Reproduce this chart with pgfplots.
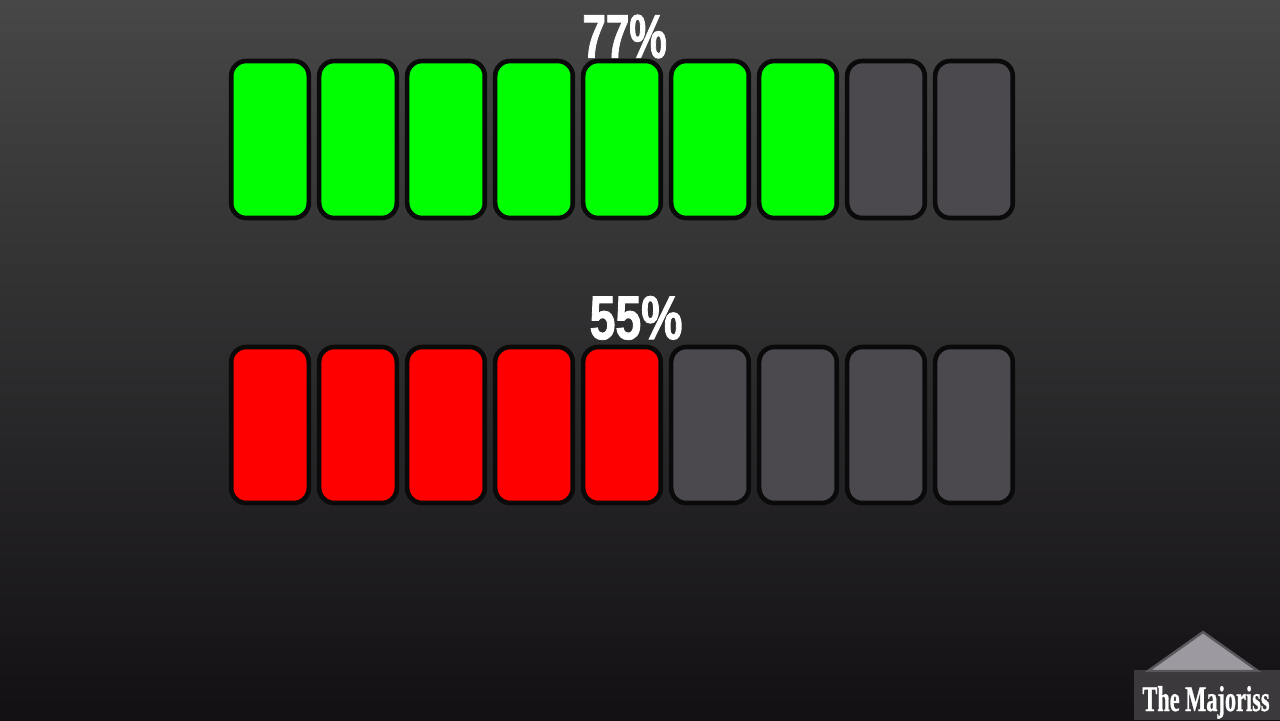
\documentclass[border=0pt]{standalone}
\usepackage{pgfplots}
\pgfplotsset{compat=1.18}
\usepackage{fontspec}
\setmainfont{Liberation Sans}
\newfontfamily\bigfont{Liberation Sans}[FakeStretch=0.68, FakeBold=1.2]
\newfontfamily\markfont{Liberation Serif}[FakeStretch=0.62, FakeBold=0.8]

\definecolor{bgtop}{HTML}{474747}
\definecolor{bgmid}{HTML}{302D32}
\definecolor{bgbot}{HTML}{121013}
\definecolor{verde}{HTML}{00FF00}
\definecolor{vermelho}{HTML}{FF0000}
\definecolor{vazio}{HTML}{4C494E}
\definecolor{borda}{HTML}{0A0A0A}
\definecolor{tri}{HTML}{9D99A0}
\definecolor{trieedge}{HTML}{5A575C}
\definecolor{markbg}{HTML}{3B393C}

\pgfplotsset{
  boxrow/.style={
    scale only axis,
    anchor=south west,
    width=396pt,
    xmin=0.5, xmax=9.5,
    ymin=0, ymax=1,
    hide axis,
    clip=false,
    ybar,
    bar width=38.8pt,
    every axis plot/.append style={
      bar shift=0pt,
      draw=borda,
      line width=2.3pt,
      rounded corners=7.5pt
    }
  }
}
\tikzset{pct/.style={font=\bigfont\bfseries\fontsize{31}{31}\selectfont, text=white, anchor=base, inner sep=0pt}}

\begin{document}
\begin{tikzpicture}
\useasboundingbox (0,0) rectangle (640pt,360pt);
\shade[top color=bgtop, middle color=bgmid, bottom color=bgbot] (0,0) rectangle (640pt,360pt);

% linha de cima: 77%
\begin{axis}[boxrow, at={(113pt,251pt)}, height=78.5pt]
\addplot[fill=verde] coordinates { (1,1) (2,1) (3,1) (4,1) (5,1) (6,1) (7,1) };
\addplot[fill=vazio] coordinates { (8,1) (9,1) };
\node[pct] at (axis cs:5.03,1.02) {77\%};
\end{axis}

% linha de baixo: 55%
\begin{axis}[boxrow, at={(113pt,108.5pt)}, height=78pt]
\addplot[fill=vermelho] coordinates { (1,1) (2,1) (3,1) (4,1) (5,1) };
\addplot[fill=vazio] coordinates { (6,1) (7,1) (8,1) (9,1) };
\node[pct, xscale=1.1] at (axis cs:5.16,1.05) {55\%};
\end{axis}

% marca d'agua
\fill[markbg] (567pt,0) rectangle (640pt,25pt);
\filldraw[fill=tri, draw=trieedge, line width=1.2pt] (574pt,24.5pt) -- (629pt,24.5pt) -- (601.5pt,44pt) -- cycle;
\node[font=\markfont\bfseries\fontsize{18}{18}\selectfont, text=white, anchor=base, inner sep=0pt] at (603pt,4.5pt) {The Majoriss};
\end{tikzpicture}
\end{document}
